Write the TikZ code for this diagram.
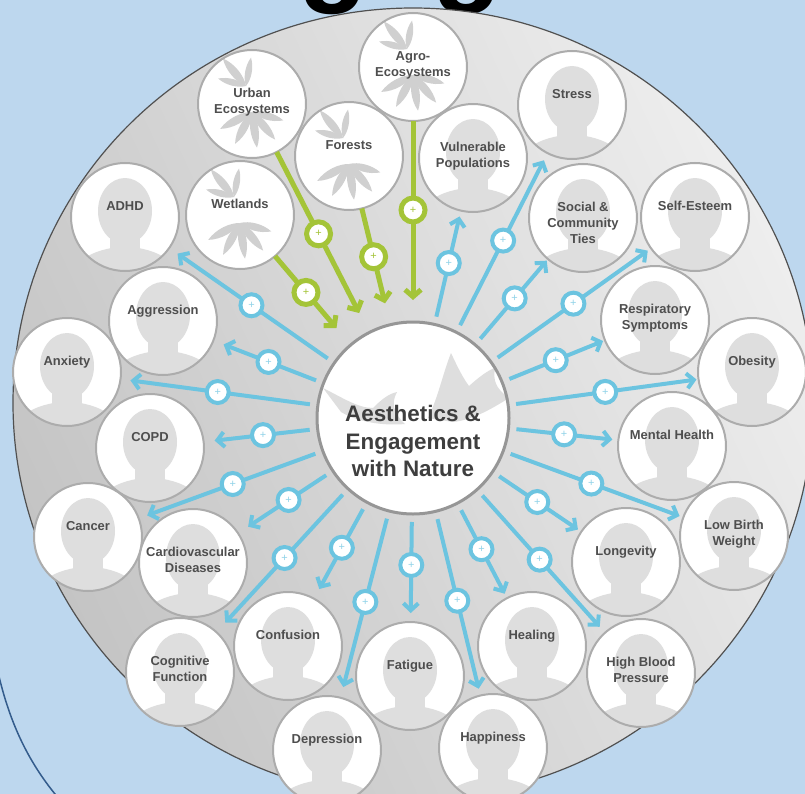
\documentclass[tikz,border=0pt]{standalone}
\usepackage{fontspec}
\setmainfont{Liberation Sans}
\usetikzlibrary{calc,arrows.meta}

\definecolor{bgblue}{RGB}{189,215,238}
\definecolor{frameblue}{RGB}{52,92,140}
\definecolor{rimgray}{RGB}{80,80,80}
\definecolor{darkfill}{RGB}{196,196,196}
\definecolor{lightfill}{RGB}{238,238,238}
\definecolor{linkblue}{RGB}{108,196,224}
\definecolor{linkgreen}{RGB}{164,196,56}
\definecolor{ringgray}{RGB}{172,172,172}
\definecolor{hubring}{RGB}{150,150,150}
\definecolor{headgray}{RGB}{222,222,222}
\definecolor{leafgray}{RGB}{208,208,208}
\definecolor{birdgray}{RGB}{222,222,222}
\definecolor{labelgray}{RGB}{78,78,78}
\definecolor{hubtext}{RGB}{62,62,62}

\tikzset{
  bust/.pic={
    \fill[headgray] (0,-6) ellipse [x radius=27, y radius=33];
    \fill[headgray] (-15,10) rectangle (15,45);
    \fill[headgray] (0,72) ellipse [x radius=60, y radius=42];
  },
  leaf/.pic={
    \fill[leafgray] (0,0) .. controls (5,9) and (6,24) .. (0,36)
                          .. controls (-6,24) and (-5,9) .. (0,0);
  },
  foliage/.pic={
    \pic[rotate=-140] at (-6,-18) {leaf};
    \pic[rotate=-105, scale=0.8] at (-6,-18) {leaf};
    \pic[rotate=170, scale=0.8] at (-6,-18) {leaf};
    \pic[rotate=-62] at (0,8) {leaf};
    \pic[rotate=-28] at (0,8) {leaf};
    \pic[rotate=8] at (0,8) {leaf};
    \pic[rotate=40] at (0,8) {leaf};
    \pic[rotate=75, scale=0.9] at (0,8) {leaf};
  },
  birds/.pic={
    \fill[birdgray] (15,0) .. controls (25,-20) and (30,-45) .. (38,-65)
      .. controls (45,-50) and (50,-40) .. (56,-32)
      .. controls (65,-40) and (75,-48) .. (82,-50)
      .. controls (80,-38) and (82,-30) .. (96,-20)
      .. controls (80,-10) and (60,2) .. (40,4) -- cycle;
    \fill[birdgray] (-90,-30) .. controls (-70,-20) and (-55,-10) .. (-40,-10)
      .. controls (-32,-18) and (-25,-24) .. (-16,-26)
      .. controls (-22,-15) and (-20,-5) .. (-8,6)
      .. controls (-30,8) and (-55,4) .. (-72,-6) -- cycle;
  }
}

\begin{document}
\begin{tikzpicture}[x=1bp, y=-1bp,
  bubble/.style={circle, draw=ringgray, line width=2bp, fill=white,
    minimum size=108bp, inner sep=0pt, outer sep=0pt},
  person/.style={bubble,
    path picture={\pic at (path picture bounding box.center) {bust};}},
  habitat/.style={bubble,
    path picture={\pic at (path picture bounding box.center) {foliage};}},
  hub/.style={circle, draw=hubring, line width=3bp, fill=white,
    minimum size=192bp, inner sep=0pt, outer sep=0pt,
    path picture={\pic at (path picture bounding box.center) {birds};}},
  tag/.style={anchor=north, inner sep=0pt, align=center, text=labelgray,
    font=\bfseries\fontsize{13}{16}\selectfont},
  hubtag/.style={inner sep=0pt, align=center, text=hubtext,
    font=\bfseries\fontsize{22.5}{28}\selectfont},
  bluelink/.style={draw=linkblue, line width=4bp, shorten <=8bp,
    -{Straight Barb[length=7bp,width=15bp]}},
  greenlink/.style={draw=linkgreen, line width=5bp, shorten >=22bp,
    -{Straight Barb[length=7bp,width=16bp]}},
  bluebadge/.style={circle, draw=linkblue, line width=4bp, fill=white,
    minimum size=22bp, inner sep=0pt, text=linkblue!75!white,
    font=\fontsize{11}{11}\selectfont},
  greenbadge/.style={circle, draw=linkgreen, line width=5bp, fill=white,
    minimum size=24bp, inner sep=0pt, text=linkgreen,
    font=\fontsize{11}{11}\selectfont},
  glyph/.style={anchor=base, inner sep=0pt, text=black,
    font=\bfseries\fontsize{115}{115}\selectfont}
]
\useasboundingbox (0,0) rectangle (805,794);
\clip (0,0) rectangle (805,794);

% backdrop and frame corner
\fill[bgblue] (0,0) rectangle (805,794);
\draw[frameblue, line width=1.5bp] (-2,672) .. controls (10,725) and (30,765) .. (60,800);

% tails of the heading letters
\node[glyph] (glyph-a) at (333,-9) {g};
\node[glyph] (glyph-b) at (467,-9) {g};

% large disc
\shadedraw[top color=lightfill, bottom color=darkfill, shading angle=-65,
  draw=rimgray, line width=1.2bp] (413,403) ellipse [x radius=400, y radius=395];

% central hub
\node[hub] (hub) at (413,418) {};
\node[hubtag] (hub-tag) at (413,441) {Aesthetics \&\\Engagement\\with Nature};

% ecosystems
\foreach \id/\x/\y/\txt in {
    agro/413/67/{Agro-\\Ecosystems},
    urban/252/104/{Urban\\Ecosystems},
    forests/349/156/{Forests},
    wetlands/240/215/{Wetlands}} {
  \node[habitat] (\id) at (\x,\y) {};
  \node[tag] (\id-tag) at (\x,\y-16) {\txt};
}

% outcomes
\foreach \id/\x/\y/\txt in {
    stress/572/105/{Stress},
    vuln/473/158/{Vulnerable\\Populations},
    social/583/218/{Social \&\\Community\\Ties},
    selfest/695/217/{Self-Esteem},
    resp/655/320/{Respiratory\\Symptoms},
    obesity/752/372/{Obesity},
    mental/672/446/{Mental Health},
    lowbirth/734/536/{Low Birth\\Weight},
    longev/626/562/{Longevity},
    hbp/641/673/{High Blood\\Pressure},
    healing/532/646/{Healing},
    happy/493/748/{Happiness},
    fatigue/410/676/{Fatigue},
    depress/327/750/{Depression},
    confus/288/646/{Confusion},
    cognit/180/672/{Cognitive\\Function},
    cardio/193/563/{Cardiovascular\\Diseases},
    cancer/88/537/{Cancer},
    copd/150/448/{COPD},
    anxiety/67/372/{Anxiety},
    aggress/163/321/{Aggression},
    adhd/125/217/{ADHD}} {
  \node[person] (\id) at (\x,\y) {};
  \node[tag] (\id-tag) at (\x,\y-16) {\txt};
}

% ecosystem inputs
\foreach \id/\d in {agro/208, forests/166, urban/207, wetlands/165} {
  \draw[greenlink] (\id) -- (hub);
  \node[greenbadge] (\id-plus) at ($(hub)!\d bp!(\id)$) {+};
}

% health outcomes
\foreach \id/\d/\g in {
    vuln/159/6, stress/199/8, social/157/2, selfest/197/4,
    resp/154/2, obesity/194/2, mental/152/6, lowbirth/190/4,
    longev/150/4, hbp/190/8, healing/148/5, happy/188/7,
    fatigue/147/9, depress/190/11, confus/148/11, cognit/190/13,
    cardio/149/12, cancer/192/9, copd/151/11, anxiety/197/10,
    aggress/155/11, adhd/197/10} {
  \draw[bluelink, shorten >=\g bp] (hub) -- (\id);
  \node[bluebadge] (\id-plus) at ($(hub)!\d bp!(\id)$) {+};
}
\end{tikzpicture}
\end{document}
